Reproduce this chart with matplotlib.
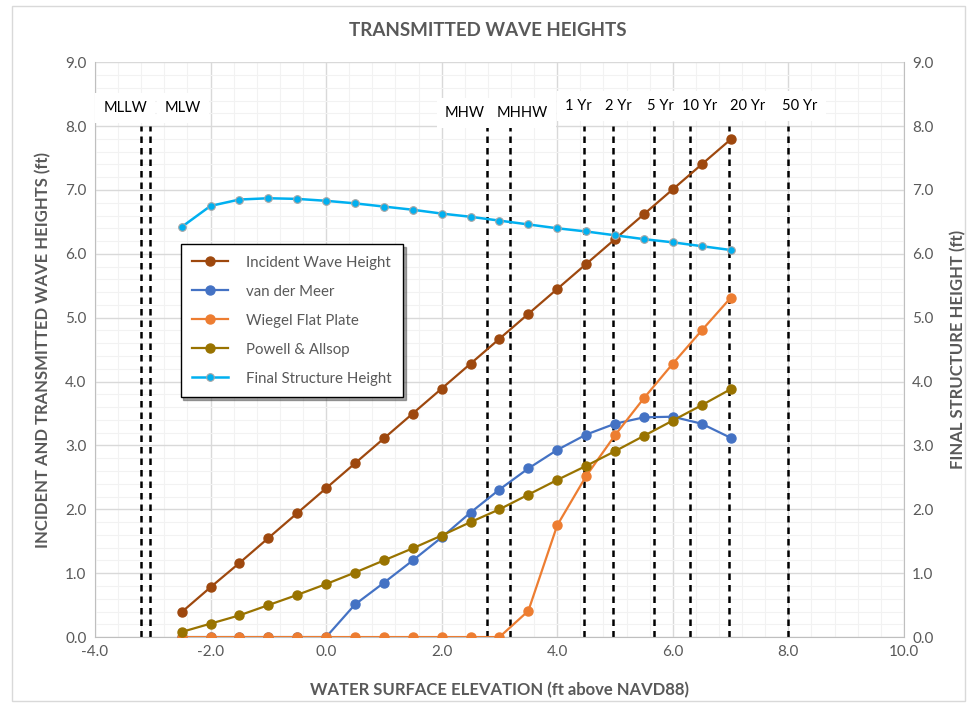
import numpy as np
import matplotlib.pyplot as plt
from matplotlib.ticker import MultipleLocator, FormatStrFormatter
from matplotlib.patches import Rectangle

plt.rcParams['font.family'] = ['Lato', 'DejaVu Sans']

# Water surface elevations (ft above NAVD88)
elev = [-2.5, -2.0, -1.5, -1.0, -0.5, 0.0, 0.5, 1.0, 1.5, 2.0,
        2.5, 3.0, 3.5, 4.0, 4.5, 5.0, 5.5, 6.0, 6.5, 7.0]

incident = [0.39, 0.78, 1.16, 1.55, 1.94, 2.33, 2.72, 3.11, 3.50, 3.89,
            4.28, 4.67, 5.06, 5.45, 5.84, 6.23, 6.62, 7.01, 7.40, 7.79]
van_der_meer = [0.0, 0.0, 0.0, 0.0, 0.0, 0.0, 0.51, 0.85, 1.20, 1.56,
                1.95, 2.31, 2.64, 2.93, 3.17, 3.34, 3.44, 3.45, 3.34, 3.12]
wiegel = [0.0, 0.0, 0.0, 0.0, 0.0, 0.0, 0.0, 0.0, 0.0, 0.0,
          0.0, 0.0, 0.41, 1.75, 2.52, 3.16, 3.74, 4.28, 4.80, 5.31]
powell = [0.08, 0.21, 0.34, 0.50, 0.66, 0.83, 1.01, 1.20, 1.39, 1.59,
          1.80, 2.00, 2.23, 2.46, 2.68, 2.91, 3.15, 3.39, 3.63, 3.88]
final_height = [6.42, 6.75, 6.85, 6.87, 6.86, 6.83, 6.79, 6.74, 6.69, 6.63,
                6.58, 6.52, 6.46, 6.40, 6.35, 6.29, 6.23, 6.18, 6.12, 6.06]

# Tidal datums and return-period water levels
datum_names = ['MLLW', 'MLW', 'MHW', 'MHHW', '1 Yr', '2 Yr', '5 Yr', '10 Yr', '20 Yr', '50 Yr']
datum_elev = [-3.21, -3.05, 2.79, 3.19, 4.47, 4.96, 5.67, 6.30, 6.98, 7.99]

gray = '#595959'

fig = plt.figure(figsize=(9.75, 7.15), dpi=100)
ax = fig.add_axes([0.0974, 0.109, 0.8297, 0.804])
ax2 = ax.twinx()

# chart border
fig.patches.append(Rectangle((0.012, 0.02), 0.978, 0.972, transform=fig.transFigure,
                             fill=False, edgecolor='#D9D9D9', linewidth=1))

ax.set_xlim(-4, 10)
ax.set_ylim(0, 9)
ax2.set_ylim(0, 9)

ax.xaxis.set_major_locator(MultipleLocator(2))
ax.xaxis.set_minor_locator(MultipleLocator(0.4))
ax.yaxis.set_major_locator(MultipleLocator(1))
ax.yaxis.set_minor_locator(MultipleLocator(0.2))
ax2.yaxis.set_major_locator(MultipleLocator(1))
for a in (ax, ax2):
    a.yaxis.set_major_formatter(FormatStrFormatter('%.1f'))
ax.xaxis.set_major_formatter(FormatStrFormatter('%.1f'))

ax.grid(which='major', color='#D9D9D9', linewidth=1)
ax.grid(which='minor', color='#F2F2F2', linewidth=0.8)
ax.set_axisbelow(True)

for a in (ax, ax2):
    a.tick_params(which='both', length=0, labelsize=11, labelcolor=gray, pad=6)
    for s in a.spines.values():
        s.set_visible(False)
ax.spines['left'].set_visible(True)
ax.spines['left'].set_color('#BFBFBF')
ax.spines['bottom'].set_visible(True)
ax.spines['bottom'].set_color('#BFBFBF')
ax2.spines['right'].set_visible(True)
ax2.spines['right'].set_color('#BFBFBF')

# datum lines
label_x = [-3.48, -2.48, 2.40, 3.40, 4.36, 5.05, 5.78, 6.47, 7.30, 8.20]
label_y = [8.28, 8.28, 8.20, 8.20, 8.31, 8.31, 8.31, 8.31, 8.31, 8.31]
for name, e, lx, ly in zip(datum_names, datum_elev, label_x, label_y):
    ax.plot([e, e], [0, 8.0], color='black', linewidth=1.8,
            linestyle=(0, (2.6, 2.0)), zorder=2)
    ax.text(lx, ly, name, ha='center', va='center', fontsize=10.5, color='black',
            zorder=3, bbox=dict(boxstyle='square,pad=0.55', facecolor='white', edgecolor='none'))

h1, = ax.plot(elev, incident, color='#9E480E', marker='o', markersize=6.5,
              linewidth=1.6, label='Incident Wave Height', zorder=4)
h2, = ax.plot(elev, van_der_meer, color='#4472C4', marker='o', markersize=6.5,
              linewidth=1.6, label='van der Meer', zorder=4)
h3, = ax.plot(elev, wiegel, color='#ED7D31', marker='o', markersize=6.5,
              linewidth=1.6, label='Wiegel Flat Plate', zorder=4)
h4, = ax.plot(elev, powell, color='#997300', marker='o', markersize=6.5,
              linewidth=1.6, label='Powell & Allsop', zorder=4)
h5, = ax2.plot(elev, final_height, color='#00B0F0', marker='o', markersize=5.5,
               markeredgecolor='#A6A6A6', markeredgewidth=0.8,
               linewidth=1.8, label='Final Structure Height', zorder=4)

leg = ax2.legend(handles=[h1, h2, h3, h4, h5], loc='upper left',
                 bbox_to_anchor=(0.106, 0.683), borderaxespad=0, fontsize=10.8,
                 frameon=True, fancybox=False, shadow=True, edgecolor='black',
                 labelspacing=1.0, handlelength=2.4, borderpad=0.75, handletextpad=1.2)
leg.get_frame().set_linewidth(1.0)
for t in leg.get_texts():
    t.set_color(gray)

ax.set_xlabel('WATER SURFACE ELEVATION (ft above NAVD88)', fontsize=12,
              fontweight='bold', color=gray, labelpad=16)
ax.set_ylabel('INCIDENT AND TRANSMITTED WAVE HEIGHTS (ft)', fontsize=12,
              fontweight='bold', color=gray, labelpad=10)
ax2.set_ylabel('FINAL STRUCTURE HEIGHT (ft)', fontsize=12,
               fontweight='bold', color=gray, labelpad=12)
fig.text(0.50, 0.957, 'TRANSMITTED WAVE HEIGHTS', ha='center', va='center',
         fontsize=13.5, fontweight='bold', color=gray)

fig.savefig('out.png', dpi=100)
